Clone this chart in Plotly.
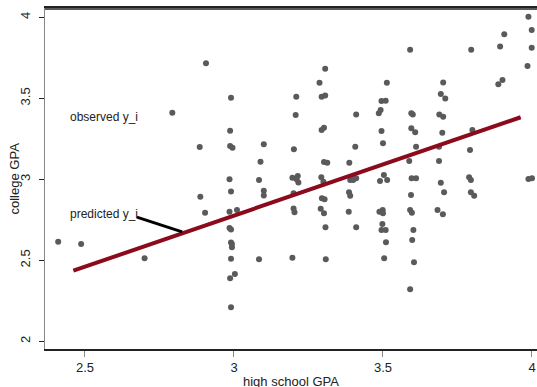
import plotly.graph_objects as go

# observed data (high school GPA, college GPA)
hs_gpa = [2.41, 2.487, 2.70, 2.793, 2.885, 2.887, 2.903, 2.906, 2.99, 2.987, 2.987, 2.995,
          2.985, 2.99, 2.985, 3.01, 2.985, 2.99, 2.99, 2.993, 2.993, 2.99, 3.003, 2.987, 2.99,
          3.10, 3.089, 3.084, 3.10, 3.10, 3.084,
          3.209, 3.207, 3.201, 3.196, 3.214, 3.21, 3.216, 3.20, 3.20, 3.203, 3.196,
          3.306, 3.287, 3.294, 3.306, 3.294, 3.302, 3.302, 3.313, 3.293, 3.30, 3.295, 3.304,
          3.291, 3.302, 3.307, 3.308,
          3.41, 3.407, 3.387, 3.39, 3.40, 3.41, 3.395, 3.386, 3.39, 3.385, 3.41,
          3.513, 3.495, 3.509, 3.486, 3.492, 3.495, 3.50, 3.503, 3.514, 3.49, 3.488, 3.499,
          3.50, 3.498, 3.495, 3.509, 3.51, 3.504,
          3.591, 3.595, 3.60, 3.595, 3.608, 3.611, 3.588, 3.596, 3.611, 3.594, 3.591, 3.597,
          3.602, 3.598, 3.604, 3.591,
          3.702, 3.694, 3.709, 3.689, 3.702, 3.699, 3.688, 3.688, 3.694, 3.705, 3.683, 3.701,
          3.796, 3.80, 3.792, 3.789, 3.795, 3.795, 3.806,
          3.893, 3.907, 3.887, 3.901,
          3.988, 3.999, 3.999, 3.985, 3.988, 4.0]
col_gpa = [2.615, 2.60, 2.512, 3.411, 3.20, 2.893, 2.794, 3.716, 3.504, 3.30, 3.205, 3.195,
           3.0, 2.924, 2.80, 2.81, 2.70, 2.69, 2.61, 2.60, 2.58, 2.51, 2.415, 2.389, 2.21,
           3.216, 3.109, 2.996, 2.93, 2.90, 2.506,
           3.51, 3.397, 3.185, 3.01, 3.02, 3.0, 2.98, 2.914, 2.82, 2.796, 2.516,
           3.683, 3.596, 3.51, 3.518, 3.304, 3.318, 3.107, 3.102, 3.012, 2.985, 2.883, 2.877,
           2.818, 2.79, 2.704, 2.506,
           3.40, 3.201, 3.102, 2.996, 2.996, 3.006, 3.016, 2.92, 2.899, 2.80, 2.704,
           3.596, 3.483, 3.485, 3.407, 3.428, 3.298, 3.222, 3.027, 2.996, 2.99, 2.80, 2.81,
           2.79, 2.724, 2.687, 2.687, 2.611, 2.512,
           3.80, 3.407, 3.40, 3.315, 3.29, 3.201, 3.113, 3.006, 3.006, 2.903, 2.81, 2.794,
           2.687, 2.625, 2.488, 2.321,
           3.598, 3.527, 3.498, 3.40, 3.386, 3.288, 3.201, 3.113, 2.979, 2.92, 2.81, 2.784,
           3.80, 3.304, 3.181, 3.012, 2.996, 2.92, 2.899,
           3.82, 3.895, 3.586, 3.613,
           4.004, 3.922, 3.812, 3.70, 3.002, 3.006]

# fitted regression line endpoints
fit_x = [2.461, 3.962]
fit_y = [2.436, 3.383]

# pointer line from label to fitted line
pointer_x = [2.674, 2.826]
pointer_y = [2.767, 2.675]

x_ticks = [2.5, 3, 3.5, 4]
y_ticks = [2, 2.5, 3, 3.5, 4]

FONT = "Liberation Sans, Arial"

fig = go.Figure()
fig.add_trace(go.Scatter(x=hs_gpa, y=col_gpa, mode="markers", cliponaxis=False,
                         marker=dict(color="#5a5a5a", size=6), showlegend=False))
fig.add_trace(go.Scatter(x=fit_x, y=fit_y, mode="lines",
                         line=dict(color="#8b0a1c", width=4), showlegend=False))
fig.add_trace(go.Scatter(x=pointer_x, y=pointer_y, mode="lines",
                         line=dict(color="#000000", width=3), showlegend=False))

fig.add_annotation(x=2.443, y=3.385, text="observed y_i", showarrow=False,
                   xanchor="left", yanchor="middle",
                   font=dict(family=FONT, size=12, color="#222"))
fig.add_annotation(x=2.443, y=2.786, text="predicted y_i", showarrow=False,
                   xanchor="left", yanchor="middle",
                   font=dict(family=FONT, size=12, color="#222"))

# axis titles placed precisely
fig.add_annotation(xref="paper", yref="paper", x=0, y=0.5, xshift=-31,
                   text="college GPA", textangle=-90, showarrow=False,
                   xanchor="center", yanchor="middle",
                   font=dict(family=FONT, size=13, color="#222"))
fig.add_annotation(xref="paper", yref="paper", x=0.5, y=0, yshift=-32,
                   text="high school GPA", showarrow=False,
                   xanchor="center", yanchor="middle",
                   font=dict(family=FONT, size=13, color="#222"))

# top frame line (just inside the plot top edge)
fig.add_shape(type="line", xref="paper", yref="paper", x0=0, x1=1, y0=0.997, y1=0.997,
              layer="above", line=dict(color="#222222", width=1.6))

fig.update_layout(
    width=537, height=387,
    margin=dict(l=45, r=0, t=8, b=38),
    paper_bgcolor="white", plot_bgcolor="white",
    font=dict(family=FONT, size=13, color="#222"),
    xaxis=dict(range=[2.3658, 4.0168], tickvals=x_ticks, ticktext=[str(v) for v in x_ticks],
               automargin=False, mirror=True,
               showgrid=False, zeroline=False, showline=True, linecolor="#222", linewidth=1.6,
               ticks="outside", ticklen=6, tickcolor="#888", tickwidth=1),
    yaxis=dict(range=[1.9525, 4.0574], tickvals=y_ticks, ticktext=[str(v) for v in y_ticks],
               tickangle=-90, automargin=False, ticklabelstandoff=4,
               showgrid=False, zeroline=False, showline=True, linecolor="#888", linewidth=1,
               ticks="outside", ticklen=5, tickcolor="#222", tickwidth=1),
)

fig.write_html("out.html", config={"displayModeBar": False},
               post_script="document.body.style.margin='0';document.body.style.overflow='hidden';")
